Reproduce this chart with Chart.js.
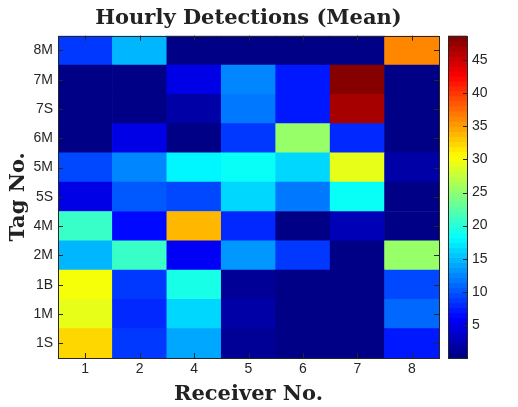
<!DOCTYPE html>
<html>
<head>
<meta charset="utf-8">
<script src="https://cdn.jsdelivr.net/npm/chart.js@4.4.1/dist/chart.umd.min.js"></script>
<style>
	html, body { margin: 0; padding: 0; background: #fff; }
	canvas { display: block; }
</style>
</head>
<body>
<canvas id="heat" width="518" height="407"></canvas>
<script>
// receivers along x, tags along y (bottom to top)
const receivers = ["1", "2", "4", "5", "6", "7", "8"];
const tags = ["1S", "1M", "1B", "2M", "4M", "5S", "5M", "6M", "7S", "7M", "8M"];

// mean hourly detections, one row per tag (same order as tags)
const row1S = [32.0, 9.0, 14.0, 1.2, 0.3, 0.3, 7.6];
const row1M = [29.0, 8.3, 16.7, 2.0, 0.3, 0.3, 11.4];
const row1B = [30.3, 9.0, 19.7, 1.5, 0.3, 0.3, 9.7];
const row2M = [15.2, 21.2, 6.0, 13.0, 9.0, 0.3, 25.6];
const row4M = [20.6, 6.5, 34.0, 8.0, 0.0, 3.0, 0.4];
const row5S = [5.3, 10.6, 9.4, 16.7, 12.1, 18.9, 0.5];
const row5M = [9.7, 12.8, 18.2, 18.9, 16.7, 29.4, 2.0];
const row6M = [0.4, 5.3, 0.4, 9.1, 25.6, 8.3, 0.5];
const row7S = [0.3, 0.3, 2.0, 12.1, 7.6, 47.0, 0.5];
const row7M = [0.3, 0.3, 4.6, 12.8, 7.6, 48.7, 0.5];
const row8M = [9.1, 14.5, 0.2, 0.2, 0.2, 0.2, 36.4];

const rows = [row1S, row1M, row1B, row2M, row4M, row5S, row5M, row6M, row7S, row7M, row8M];
const cbTicks = [5, 10, 15, 20, 25, 30, 35, 40, 45];

const cmin = Math.min(...rows.flat());
const cmax = Math.max(...rows.flat());
const LEVELS = 64;
const INK = "#262626";

// jet colormap, 64 levels like matlab
const jet = (t) => {
	const lvl = Math.min(LEVELS - 1, Math.max(0, Math.floor(t * LEVELS)));
	const x = (lvl + 0.5) / LEVELS;
	const clip = (v) => Math.max(0, Math.min(1, v));
	const r = clip(Math.min(4 * x - 1.5, -4 * x + 4.5));
	const g = clip(Math.min(4 * x - 0.5, -4 * x + 3.5));
	const b = clip(Math.min(4 * x + 0.5, -4 * x + 2.5));
	return `rgb(${Math.round(r * 255)},${Math.round(g * 255)},${Math.round(b * 255)})`;
};
const colorOf = (v) => jet((v - cmin) / (cmax - cmin));

const datasets = tags.map((tag, r) => ({
	label: tag,
	data: receivers.map(() => [r, r + 1]),
	backgroundColor: rows[r].map(colorOf),
	borderWidth: 0,
	barPercentage: 1,
	categoryPercentage: 1,
}));

// box, inward ticks and the colorbar
const matlabAxes = {
	id: "matlabAxes",
	afterDatasetsDraw(chart) {
		const { ctx, chartArea: a, scales } = chart;
		const tl = 5;
		ctx.save();
		ctx.strokeStyle = INK;
		ctx.lineWidth = 1;
		ctx.beginPath();
		scales.x.ticks.forEach((_, i) => {
			const px = Math.round(scales.x.getPixelForTick(i)) + 0.5;
			ctx.moveTo(px, a.bottom); ctx.lineTo(px, a.bottom - tl);
			ctx.moveTo(px, a.top); ctx.lineTo(px, a.top + tl);
		});
		scales.y.ticks.forEach((t) => {
			const py = Math.round(scales.y.getPixelForValue(t.value)) + 0.5;
			ctx.moveTo(a.left, py); ctx.lineTo(a.left + tl, py);
			ctx.moveTo(a.right, py); ctx.lineTo(a.right - tl, py);
		});
		ctx.stroke();
		ctx.strokeRect(Math.round(a.left) + 0.5, Math.round(a.top) + 0.5,
			Math.round(a.right - a.left), Math.round(a.bottom - a.top));

		// colorbar
		const cb = scales.cb;
		const x0 = Math.round(cb.left + 9);
		const x1 = Math.round(cb.left + 28);
		for (let i = 0; i < LEVELS; i++) {
			const v0 = cmin + (i / LEVELS) * (cmax - cmin);
			const v1 = cmin + ((i + 1) / LEVELS) * (cmax - cmin);
			const y0 = cb.getPixelForValue(v0);
			const y1 = cb.getPixelForValue(v1);
			ctx.fillStyle = jet((i + 0.5) / LEVELS);
			ctx.fillRect(x0, y1, x1 - x0, y0 - y1 + 0.6);
		}
		const ct = cb.getPixelForValue(cmax);
		const cbot = cb.getPixelForValue(cmin);
		ctx.beginPath();
		cb.ticks.forEach((t) => {
			const py = Math.round(cb.getPixelForValue(t.value)) + 0.5;
			ctx.moveTo(x1, py); ctx.lineTo(x1 - 4, py);
		});
		ctx.stroke();
		ctx.strokeRect(x0 + 0.5, Math.round(ct) + 0.5, x1 - x0, Math.round(cbot - ct));
		ctx.restore();
	},
};

const tickFont = { family: "'Liberation Sans', Arial, sans-serif", size: 14 };
const titleFont = { family: "'DejaVu Serif', serif", size: 21, weight: "bold" };

// keep label overhang from pushing the plot box around
const noOverhang = (s) => { s.paddingTop = 0; s.paddingBottom = 0; s.paddingLeft = 0; s.paddingRight = 0; };

new Chart(document.getElementById("heat"), {
	type: "bar",
	data: { labels: receivers, datasets },
	options: {
		responsive: false,
		animation: false,
		layout: { padding: 0 },
		plugins: {
			legend: { display: false },
			tooltip: { enabled: false },
			title: {
				display: true,
				text: "Hourly Detections (Mean)",
				fullSize: false,
				color: "#222",
				font: { family: "'DejaVu Serif', serif", size: 21, weight: "bold" },
				padding: { top: 5.5, bottom: 5 },
			},
		},
		scales: {
			x: {
				stacked: true,
				grid: { display: false, drawTicks: false },
				border: { display: false },
				ticks: { color: INK, font: tickFont, padding: 3, maxRotation: 0 },
				title: { display: true, text: "Receiver No.", color: "#222", font: titleFont, padding: 0 },
				afterFit: (s) => { s.height = 49; noOverhang(s); },
			},
			y: {
				stacked: false,
				min: 0,
				max: tags.length,
				grid: { display: false, drawTicks: false },
				border: { display: false },
				afterBuildTicks: (s) => { s.ticks = tags.map((_, i) => ({ value: i + 0.5 })); },
				ticks: { color: INK, font: tickFont, padding: 5, callback: (v, i) => tags[i] },
				title: { display: true, text: "Tag No.", color: "#222", font: titleFont, padding: { top: 6, bottom: 0 } },
				afterFit: (s) => { s.width = 58; noOverhang(s); },
			},
			cb: {
				type: "linear",
				position: "right",
				min: cmin,
				max: cmax,
				grid: { display: false, drawTicks: false },
				border: { display: false },
				afterBuildTicks: (s) => { s.ticks = cbTicks.map((v) => ({ value: v })); },
				ticks: { color: INK, font: tickFont, padding: 33 },
				afterFit: (s) => { s.width = 79; noOverhang(s); },
			},
		},
	},
	plugins: [matlabAxes],
});
</script>
</body>
</html>
